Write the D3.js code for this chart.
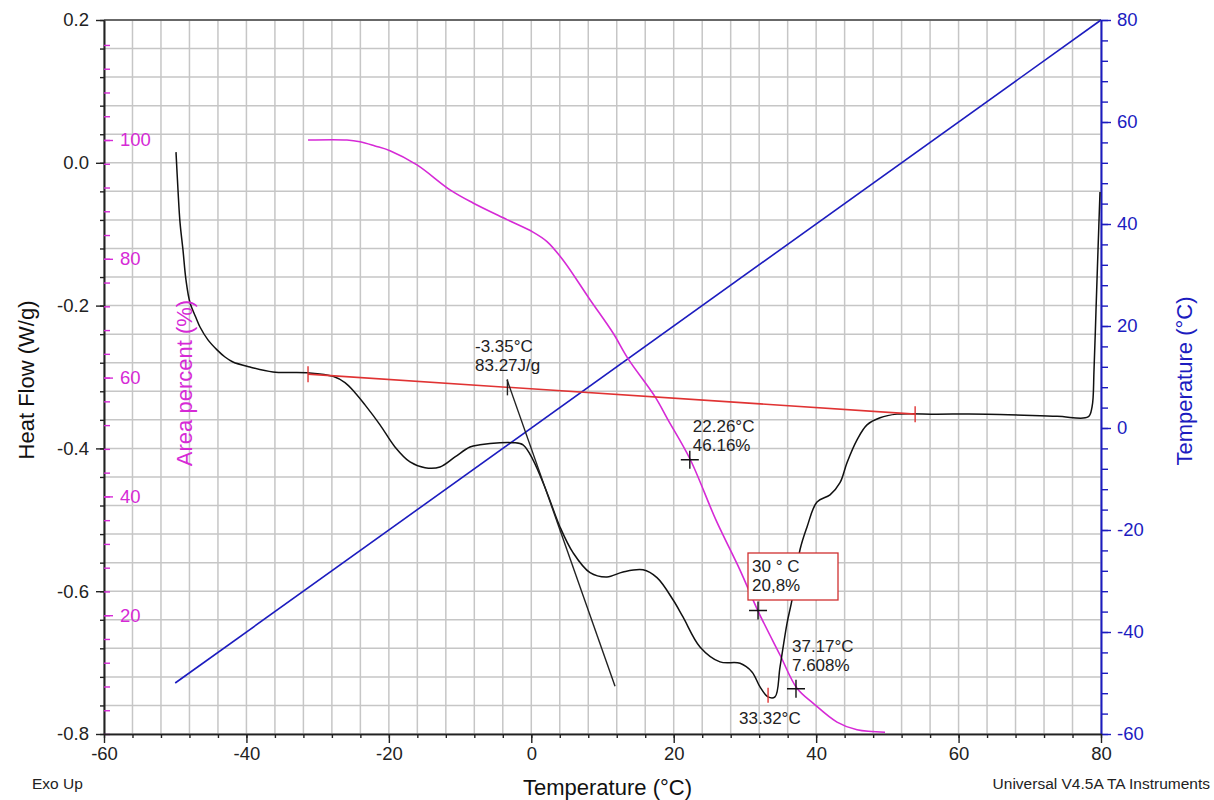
<!DOCTYPE html>
<html>
<head>
<meta charset="utf-8">
<style>
    body { margin:0; background:#fff; }
    svg text { font-family: "Liberation Sans", Arial, sans-serif; }
</style>
</head>
<body>
<svg id="chart" width="1214" height="800"></svg>
<script src="https://cdnjs.cloudflare.com/ajax/libs/d3/7.8.5/d3.min.js"></script>
<script>
// heat flow (W/g) against sample temperature (deg C)
var heatFlow = [
    [-49.89,0.015],[-49.61,-0.038],[-49.33,-0.083],[-48.91,-0.122],[-48.49,-0.164],[-47.92,-0.196],
    [-47.08,-0.217],[-46.52,-0.230],[-45.40,-0.248],[-44.13,-0.262],[-43.01,-0.272],[-41.89,-0.279],
    [-39.50,-0.286],[-36.27,-0.293],[-31.49,-0.294],[-27.84,-0.299],[-26.16,-0.308],[-24.75,-0.322],
    [-23.35,-0.339],[-21.24,-0.367],[-19.14,-0.398],[-17.03,-0.419],[-14.92,-0.427],[-12.82,-0.426],
    [-10.71,-0.412],[-8.61,-0.398],[-7.20,-0.395],[-4.39,-0.392],[-2.57,-0.392],[-1.16,-0.395],
    [0.24,-0.416],[2.21,-0.462],[4.03,-0.510],[5.86,-0.546],[8.25,-0.574],[10.63,-0.580],
    [12.88,-0.573],[15.69,-0.570],[17.65,-0.581],[19.90,-0.612],[21.30,-0.636],[23.69,-0.678],
    [26.50,-0.699],[29.31,-0.701],[30.99,-0.713],[32.12,-0.734],[33.24,-0.748],[34.22,-0.748],
    [34.93,-0.706],[35.91,-0.645],[36.61,-0.612],[37.73,-0.542],[38.72,-0.510],[40.12,-0.475],
    [41.95,-0.465],[43.35,-0.448],[44.33,-0.420],[45.74,-0.388],[47.14,-0.367],[48.97,-0.357],
    [51.35,-0.352],[56.97,-0.352],[63.99,-0.352],[73.82,-0.355],[78.18,-0.356],[78.74,-0.342],
    [79.02,-0.290],[79.30,-0.206],[79.58,-0.122],[79.86,-0.041]
];
// cumulative area percent (%)
var areaPercent = [
    [-31.35,100],[-25.88,100],[-24.05,99.7],[-21.95,99.0],[-19.84,98.2],[-16.05,95.8],
    [-11.41,91.6],[-8.18,89.4],[-3.41,86.6],[0.24,84.5],[2.21,82.9],[4.45,79.8],
    [8.25,73.1],[11.48,67.5],[13.58,63.2],[17.37,56.8],[19.20,52.9],[22.29,46.3],
    [25.94,36.0],[29.31,27.6],[31.84,20.7],[34.93,13.3],[37.31,7.7],[39.56,5.2],
    [42.93,2.0],[45.74,0.7],[49.67,0.3]
];
// program temperature (right axis)
var programTemp = [[-50,-50],[80,80]];
// integration baseline and onset tangent (heat flow units)
var baseline = [[-31.35,-0.296],[53.9,-0.352]];
var onsetTangent = [[-3.4,-0.304],[11.76,-0.733]];
var peakTemp = [33.25, -0.748];
// crosses on the area curve: [temperature, area %]
var areaMarks = [[22.26,46.16],[31.84,20.8],[37.17,7.608]];

var tempTicks = [-60,-40,-20,0,20,40,60,80];
var hfTicks = [-0.8,-0.6,-0.4,-0.2,0.0,0.2];
var areaTicks = [20,40,60,80,100];
var rightTicks = [-60,-40,-20,0,20,40,60,80];

var pLeft = 104, pRight = 1101, pTop = 20, pBottom = 734;
var magenta = "#d62ad6", blue = "#1c1cbf", red = "#e03333";

var svg = d3.select("#chart");
var x = d3.scaleLinear().domain([-60,80]).range([pLeft,pRight]);
var yHF = d3.scaleLinear().domain([-0.8,0.2]).range([pBottom,pTop]);
var yArea = d3.scaleLinear().domain([0,100]).range([pBottom,140]);
var yTemp = d3.scaleLinear().domain([-60,80]).range([pBottom,pTop]);

var minorT = d3.range(0,36).map(function(i){ return -60 + 4*i; });
var minorHF = d3.range(0,26).map(function(i){ return -0.8 + 0.04*i; });
var minorArea = d3.range(0,31).map(function(i){ return 4*i; }).filter(function(v){ return yArea(v) >= pTop + 10; });
var minorRight = d3.range(0,36).map(function(i){ return -60 + 4*i; });

// grid
var grid = svg.append("g").attr("stroke","#c6c6c6").attr("stroke-width",1.5);
grid.selectAll(".gv").data(minorT).enter().append("line")
    .attr("x1",function(d){ return x(d); }).attr("x2",function(d){ return x(d); })
    .attr("y1",pTop).attr("y2",pBottom);
grid.selectAll(".gh").data(minorHF).enter().append("line")
    .attr("y1",function(d){ return yHF(d); }).attr("y2",function(d){ return yHF(d); })
    .attr("x1",pLeft).attr("x2",pRight);

// top frame line
svg.append("line").attr("x1",pLeft).attr("x2",pRight).attr("y1",pTop).attr("y2",pTop)
    .attr("stroke","#444").attr("stroke-width",1.5);

function styleAxis(g, color, size){
    g.select(".domain").attr("stroke",color).attr("stroke-width",1.6);
    g.selectAll(".tick line").attr("stroke",color).attr("stroke-width",1.4);
    g.selectAll("text").attr("fill",color).style("font-size",size+"px");
}

// left heat flow axis
var gl1 = svg.append("g").attr("transform","translate("+pLeft+",0)")
    .call(d3.axisLeft(yHF).tickValues(minorHF).tickSize(4).tickSizeOuter(0).tickFormat(""));
styleAxis(gl1,"#222",18);
var gl2 = svg.append("g").attr("transform","translate("+pLeft+",0)")
    .call(d3.axisLeft(yHF).tickValues(hfTicks).tickSize(8).tickSizeOuter(0).tickPadding(7)
        .tickFormat(function(d){ return d.toFixed(1); }));
styleAxis(gl2,"#222",18.5);

// area percent axis, ticks inside the left frame
var ga1 = svg.append("g").attr("transform","translate("+pLeft+",0)")
    .call(d3.axisRight(yArea).tickValues(minorArea).tickSize(6).tickFormat(""));
styleAxis(ga1,magenta,18);
ga1.select(".domain").remove();
var ga2 = svg.append("g").attr("transform","translate("+pLeft+",0)")
    .call(d3.axisRight(yArea).tickValues(areaTicks).tickSize(9).tickPadding(7)
        .tickFormat(function(d){ return String(d); }));
styleAxis(ga2,magenta,18.5);
ga2.select(".domain").remove();

// right temperature axis
var gr1 = svg.append("g").attr("transform","translate("+pRight+",0)")
    .call(d3.axisRight(yTemp).tickValues(minorRight).tickSize(7).tickSizeOuter(0).tickFormat(""));
styleAxis(gr1,blue,18);
var gr2 = svg.append("g").attr("transform","translate("+pRight+",0)")
    .call(d3.axisRight(yTemp).tickValues(rightTicks).tickSize(10).tickSizeOuter(0).tickPadding(6)
        .tickFormat(function(d){ return String(d); }));
styleAxis(gr2,blue,18.5);

// bottom temperature axis
var gb1 = svg.append("g").attr("transform","translate(0,"+pBottom+")")
    .call(d3.axisBottom(x).tickValues(minorT).tickSize(4).tickSizeOuter(0).tickFormat(""));
styleAxis(gb1,"#222",18);
var gb2 = svg.append("g").attr("transform","translate(0,"+pBottom+")")
    .call(d3.axisBottom(x).tickValues(tempTicks).tickSize(9).tickSizeOuter(0).tickPadding(4)
        .tickFormat(function(d){ return String(d); }));
styleAxis(gb2,"#222",18.5);

// curves
var lineT = d3.line().x(function(d){ return x(d[0]); }).y(function(d){ return yTemp(d[1]); });
var lineHF = d3.line().x(function(d){ return x(d[0]); }).y(function(d){ return yHF(d[1]); });
var lineHFs = d3.line().x(function(d){ return x(d[0]); }).y(function(d){ return yHF(d[1]); })
    .curve(d3.curveCatmullRom.alpha(0.5));
var lineA = d3.line().x(function(d){ return x(d[0]); }).y(function(d){ return yArea(d[1]); })
    .curve(d3.curveCatmullRom.alpha(0.5));

svg.append("path").datum(programTemp).attr("d",lineT)
    .attr("fill","none").attr("stroke",blue).attr("stroke-width",1.6);
svg.append("path").datum(areaPercent).attr("d",lineA)
    .attr("fill","none").attr("stroke",magenta).attr("stroke-width",1.6);
svg.append("path").datum(heatFlow).attr("d",lineHFs)
    .attr("fill","none").attr("stroke","#111").attr("stroke-width",1.5);
svg.append("path").datum(baseline).attr("d",lineHF)
    .attr("fill","none").attr("stroke",red).attr("stroke-width",1.6);
svg.append("path").datum(onsetTangent).attr("d",lineHF)
    .attr("fill","none").attr("stroke","#222").attr("stroke-width",1.4);

// small vertical marks
function vmark(t, v, color){
    svg.append("line").attr("x1",x(t)).attr("x2",x(t))
        .attr("y1",yHF(v)-8).attr("y2",yHF(v)+8)
        .attr("stroke",color).attr("stroke-width",1.4);
}
vmark(baseline[0][0], baseline[0][1], red);
vmark(baseline[1][0], baseline[1][1], red);
vmark(-3.35, -0.3145, "#222");
svg.append("line").attr("x1",x(peakTemp[0])).attr("x2",x(peakTemp[0]))
    .attr("y1",yHF(peakTemp[1])-9).attr("y2",yHF(peakTemp[1])+6)
    .attr("stroke",red).attr("stroke-width",1.4);

// crosses on area curve
svg.selectAll(".cross").data(areaMarks).enter().append("path")
    .attr("d",function(d){
        var cx = x(d[0]), cy = yArea(d[1]);
        return "M"+(cx-9)+","+cy+"H"+(cx+9)+"M"+cx+","+(cy-9)+"V"+(cy+9);
    })
    .attr("stroke","#111").attr("stroke-width",1.4).attr("fill","none");

// annotation texts
function note(px, py, lines){
    var t = svg.append("text").attr("x",px).attr("y",py)
        .attr("fill","#222").style("font-size","17px");
    lines.forEach(function(s,i){
        t.append("tspan").attr("x",px).attr("dy", i==0 ? 0 : 19).text(s);
    });
}
note(475, 352, ["-3.35°C","83.27J/g"]);
note(x(22.26)+3, yArea(46.16)-28, ["22.26°C","46.16%"]);
note(x(37.17)-4, yArea(7.608)-37, ["37.17°C","7.608%"]);
note(x(peakTemp[0])-29, yHF(peakTemp[1])+27, ["33.32°C"]);
svg.append("rect").attr("x",748).attr("y",553).attr("width",90).attr("height",47)
    .attr("fill","white").attr("stroke","#d03030").attr("stroke-width",1.3);
note(752, 572, ["30 ° C","20,8%"]);

// axis titles
svg.append("text").attr("transform","translate(34,380) rotate(-90)")
    .attr("text-anchor","middle").attr("fill","#111").style("font-size","22px")
    .text("Heat Flow (W/g)");
svg.append("text").attr("transform","translate(192,383) rotate(-90)")
    .attr("text-anchor","middle").attr("fill",magenta).style("font-size","22px")
    .text("Area percent (%)");
svg.append("text").attr("transform","translate(1192,381) rotate(-90)")
    .attr("text-anchor","middle").attr("fill",blue).style("font-size","22px")
    .text("Temperature (°C)");
svg.append("text").attr("x",(pLeft+pRight)/2+5).attr("y",795)
    .attr("text-anchor","middle").attr("fill","#111").style("font-size","22px")
    .text("Temperature (°C)");
svg.append("text").attr("x",32).attr("y",789)
    .attr("fill","#222").style("font-size","15.5px").text("Exo Up");
svg.append("text").attr("x",1210).attr("y",789).attr("text-anchor","end")
    .attr("fill","#222").style("font-size","15.5px").text("Universal V4.5A TA Instruments");
</script>
</body>
</html>
